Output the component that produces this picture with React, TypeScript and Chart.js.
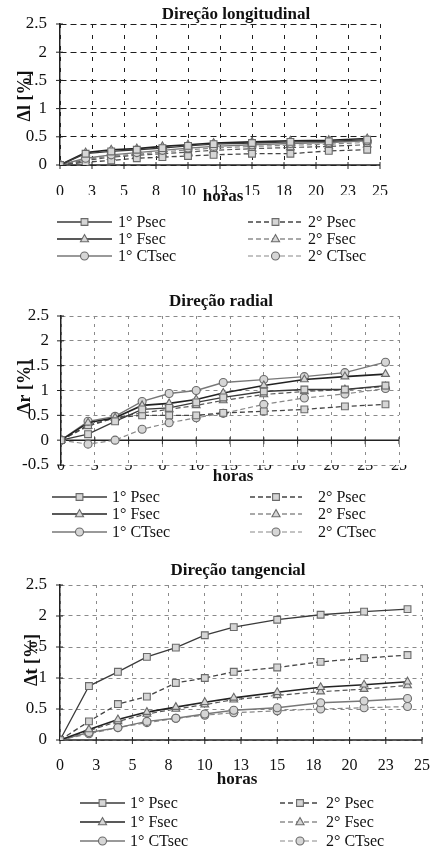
import React, { useEffect, useRef } from 'react';
import { Chart, registerables } from 'chart.js';

Chart.register(...registerables);

// ---------- data ----------
const hours = [0, 2, 4, 6, 8, 10, 12, 15, 18, 21, 24];
const seriesNames = ['1° Psec', '1° Fsec', '1° CTsec', '2° Psec', '2° Fsec', '2° CTsec'];
const xTickValues = [0, 2.5, 5, 7.5, 10, 12.5, 15, 17.5, 20, 22.5, 25];
const xTickLabels = ['0', '3', '5', '8', '10', '13', '15', '18', '20', '23', '25'];

// Direção longitudinal
const longP1 = [0, 0.2, 0.24, 0.27, 0.3, 0.34, 0.37, 0.39, 0.41, 0.42, 0.45];
const longF1 = [0, 0.22, 0.27, 0.29, 0.33, 0.36, 0.39, 0.41, 0.43, 0.44, 0.47];
const longCT1 = [0, 0.12, 0.18, 0.22, 0.26, 0.3, 0.33, 0.36, 0.38, 0.4, 0.43];
const longP2 = [0, 0.05, 0.08, 0.12, 0.14, 0.16, 0.18, 0.2, 0.2, 0.25, 0.27];
const longF2 = [0, 0.08, 0.14, 0.17, 0.2, 0.23, 0.26, 0.29, 0.31, 0.33, 0.36];
const longCT2 = [0, 0.1, 0.16, 0.19, 0.23, 0.27, 0.3, 0.33, 0.35, 0.37, 0.4];

// Direção radial
const radP1 = [0, 0.12, 0.38, 0.62, 0.65, 0.76, 0.86, 0.98, 1.02, 1.02, 1.1];
const radF1 = [0, 0.35, 0.45, 0.7, 0.74, 0.82, 0.95, 1.1, 1.22, 1.28, 1.33];
const radCT1 = [0, 0.38, 0.48, 0.78, 0.94, 1.0, 1.16, 1.22, 1.28, 1.36, 1.57];
const radP2 = [0, 0.3, 0.45, 0.5, 0.5, 0.5, 0.55, 0.58, 0.62, 0.68, 0.72];
const radF2 = [0, 0.28, 0.45, 0.55, 0.62, 0.7, 0.8, 0.92, 0.98, 1.02, 1.08];
const radCT2 = [0, -0.08, 0, 0.22, 0.35, 0.45, 0.54, 0.72, 0.85, 0.93, 1.04];

// Direção tangencial
const tanP1 = [0, 0.87, 1.1, 1.34, 1.49, 1.69, 1.82, 1.94, 2.02, 2.07, 2.11];
const tanF1 = [0, 0.17, 0.33, 0.45, 0.53, 0.61, 0.68, 0.77, 0.85, 0.89, 0.94];
const tanCT1 = [0, 0.12, 0.2, 0.3, 0.35, 0.42, 0.48, 0.52, 0.6, 0.63, 0.67];
const tanP2 = [0, 0.3, 0.58, 0.7, 0.92, 1.0, 1.1, 1.17, 1.26, 1.32, 1.37];
const tanF2 = [0, 0.15, 0.3, 0.42, 0.5, 0.57, 0.65, 0.72, 0.78, 0.82, 0.88];
const tanCT2 = [0, 0.1, 0.2, 0.28, 0.35, 0.4, 0.44, 0.47, 0.5, 0.52, 0.54];

// ---------- styles ----------
const FONT = '"Liberation Serif", "Times New Roman", serif';
const seriesStyles = [
  { color: '#3a3a3a', width: 1.3, dash: [] as number[], point: 'rect', radius: 4.8 },
  { color: '#222222', width: 1.6, dash: [] as number[], point: 'triangle', radius: 4.5 },
  { color: '#777777', width: 1.4, dash: [] as number[], point: 'circle', radius: 4 },
  { color: '#444444', width: 1.3, dash: [5, 3], point: 'rect', radius: 4.8 },
  { color: '#555555', width: 1.2, dash: [5, 3], point: 'triangle', radius: 4.5 },
  { color: '#888888', width: 1.2, dash: [5, 3], point: 'circle', radius: 4 },
];

function drawMarker(ctx: CanvasRenderingContext2D, style: string, x: number, y: number, r: number) {
  ctx.beginPath();
  if (style === 'rect') {
    const s = r * Math.SQRT1_2;
    ctx.rect(x - s, y - s, 2 * s, 2 * s);
  } else if (style === 'triangle') {
    ctx.moveTo(x, y - r);
    ctx.lineTo(x + r * 0.9, y + r * 0.6);
    ctx.lineTo(x - r * 0.9, y + r * 0.6);
    ctx.closePath();
  } else {
    ctx.arc(x, y, r, 0, Math.PI * 2);
  }
  ctx.fill();
  ctx.stroke();
}

const decorPlugin = {
  id: 'decor',
  beforeDatasetsDraw(chart: any) {
    const ctx: CanvasRenderingContext2D = chart.ctx;
    const { left, right } = chart.chartArea;
    const xs = chart.scales.x;
    const ys = chart.scales.y;
    const y0 = ys.getPixelForValue(0);
    ctx.save();
    ctx.setLineDash([]);
    ctx.strokeStyle = '#222';
    ctx.lineWidth = 1.5;
    ctx.beginPath();
    ctx.moveTo(left, y0);
    ctx.lineTo(right, y0);
    ctx.stroke();
    ctx.lineWidth = 1;
    ctx.beginPath();
    xs.ticks.forEach((_t: any, i: number) => {
      const px = xs.getPixelForTick(i);
      ctx.moveTo(px, y0 - 3);
      ctx.lineTo(px, y0 + 4);
    });
    ys.ticks.forEach((_t: any, i: number) => {
      const py = ys.getPixelForTick(i);
      ctx.moveTo(left - 4, py);
      ctx.lineTo(left + 3, py);
    });
    ctx.stroke();
    ctx.restore();
  },
  afterDraw(chart: any, _a: any, opts: any) {
    const ctx: CanvasRenderingContext2D = chart.ctx;
    ctx.save();
    ctx.fillStyle = '#111';
    ctx.textBaseline = 'middle';
    ctx.textAlign = 'center';
    ctx.font = `bold 17px ${FONT}`;
    ctx.fillText(opts.title, opts.titleX, opts.titleY);
    ctx.fillText('horas', opts.horasX, opts.horasY);
    ctx.save();
    ctx.translate(opts.yTitleX, opts.yTitleY);
    ctx.rotate(-Math.PI / 2);
    ctx.font = `bold 18px ${FONT}`;
    ctx.fillText(opts.yTitle, 0, 0);
    ctx.restore();

    // legend
    ctx.font = `16px ${FONT}`;
    ctx.textAlign = 'left';
    chart.data.datasets.forEach((ds: any, i: number) => {
      const col = i < 3 ? opts.col1 : opts.col2;
      const y = opts.rows[i % 3];
      ctx.save();
      ctx.strokeStyle = ds.borderColor;
      ctx.lineWidth = ds.borderWidth;
      ctx.setLineDash(ds.borderDash || []);
      ctx.beginPath();
      ctx.moveTo(col.x0, y);
      ctx.lineTo(col.x1, y);
      ctx.stroke();
      ctx.setLineDash([]);
      ctx.fillStyle = ds.pointBackgroundColor;
      ctx.strokeStyle = ds.pointBorderColor;
      ctx.lineWidth = 1.1;
      drawMarker(ctx, ds.pointStyle, (col.x0 + col.x1) / 2, y, ds.pointRadius);
      ctx.restore();
      ctx.fillStyle = '#111';
      ctx.fillText(seriesNames[i], col.tx, y + 1);
    });
    ctx.restore();
  },
};

function makeConfig(p: any): any {
  const datasets = p.series.map((vals: number[], i: number) => {
    const s = seriesStyles[i];
    return {
      label: seriesNames[i],
      data: hours.map((h, j) => ({ x: h, y: vals[j] })),
      borderColor: s.color,
      borderWidth: s.width,
      borderDash: s.dash,
      pointStyle: s.point,
      pointRadius: s.radius,
      pointBackgroundColor: '#d6d6d6',
      pointBorderColor: '#6a6a6a',
      pointBorderWidth: 1.1,
      fill: false,
      tension: 0,
    };
  });
  return {
    type: 'line',
    data: { datasets },
    plugins: [decorPlugin],
    options: {
      responsive: false,
      animation: false,
      events: [],
      layout: { padding: { left: 0, right: p.padRight, top: p.padTop, bottom: p.padBottom } },
      plugins: {
        legend: { display: false },
        tooltip: { enabled: false },
        decor: p.decor,
      },
      scales: {
        x: {
          type: 'linear',
          min: 0,
          max: 25,
          afterBuildTicks: (s: any) => {
            s.ticks = xTickValues.map((v) => ({ value: v }));
          },
          ticks: {
            autoSkip: false,
            maxRotation: 0,
            padding: p.xPad,
            color: '#111',
            font: { family: FONT, size: 16 },
            callback: (_v: any, i: number) => xTickLabels[i],
          },
          grid: { color: p.gridColor, lineWidth: 1, drawTicks: false },
          border: { display: false, dash: p.xDash },
          afterFit: (s: any) => {
            s.height = p.xHeight;
            s.paddingLeft = 0;
            s.paddingRight = 0;
            s.paddingTop = 0;
            s.paddingBottom = 0;
          },
        },
        y: {
          type: 'linear',
          min: p.yMin,
          max: 2.5,
          ticks: {
            stepSize: 0.5,
            padding: p.yPad,
            color: '#111',
            font: { family: FONT, size: 17 },
            callback: (v: any) => String(Math.round(Number(v) * 10) / 10),
          },
          grid: { color: p.gridColor, lineWidth: 1, drawTicks: false },
          border: { display: true, color: '#222', width: 1.5, dash: p.yDash },
          afterFit: (s: any) => {
            s.width = p.yWidth;
            s.paddingLeft = 0;
            s.paddingRight = 0;
            s.paddingTop = 0;
            s.paddingBottom = 0;
          },
        },
      },
    },
  };
}

const panels = [
  {
    top: 0,
    height: 272,
    series: [longP1, longF1, longCT1, longP2, longF2, longCT2],
    yMin: 0,
    padTop: 24,
    padRight: 60,
    padBottom: 77,
    xHeight: 30,
    yWidth: 60,
    xPad: 17,
    yPad: 13,
    gridColor: '#1e1e1e',
    xDash: [4, 7],
    yDash: [6, 4],
    decor: {
      title: 'Direção longitudinal',
      titleX: 236,
      titleY: 15,
      horasX: 223,
      horasY: 197,
      yTitle: 'Δl [%]',
      yTitleX: 25,
      yTitleY: 96,
      rows: [222, 239, 256],
      col1: { x0: 57, x1: 112, tx: 118 },
      col2: { x0: 248, x1: 303, tx: 308 },
    },
  },
  {
    top: 280,
    height: 265,
    series: [radP1, radF1, radCT1, radP2, radF2, radCT2],
    yMin: -0.5,
    padTop: 36,
    padRight: 41,
    padBottom: 60,
    xHeight: 20,
    yWidth: 61,
    xPad: -9,
    yPad: 12,
    gridColor: '#8a8a8a',
    xDash: [3, 5],
    yDash: [4, 4],
    decor: {
      title: 'Direção radial',
      titleX: 221,
      titleY: 22,
      horasX: 233,
      horasY: 197,
      yTitle: 'Δr [%]',
      yTitleX: 25,
      yTitleY: 107,
      rows: [217, 234, 252],
      col1: { x0: 52, x1: 107, tx: 112 },
      col2: { x0: 250, x1: 302, tx: 318 },
    },
  },
  {
    top: 555,
    height: 296,
    series: [tanP1, tanF1, tanCT1, tanP2, tanF2, tanCT2],
    yMin: 0,
    padTop: 30,
    padRight: 18,
    padBottom: 81,
    xHeight: 30,
    yWidth: 60,
    xPad: 16,
    yPad: 13,
    gridColor: '#8a8a8a',
    xDash: [3, 5],
    yDash: [4, 4],
    decor: {
      title: 'Direção tangencial',
      titleX: 238,
      titleY: 16,
      horasX: 237,
      horasY: 225,
      yTitle: 'Δt [%]',
      yTitleX: 32,
      yTitleY: 105,
      rows: [248, 267, 286],
      col1: { x0: 80, x1: 125, tx: 130 },
      col2: { x0: 280, x1: 320, tx: 326 },
    },
  },
];

function Panel({ p }: { p: any }) {
  const ref = useRef<HTMLCanvasElement>(null);
  useEffect(() => {
    const chart = new Chart(ref.current as HTMLCanvasElement, makeConfig(p));
    return () => chart.destroy();
  }, [p]);
  return (
    <canvas
      ref={ref}
      width={440}
      height={p.height}
      style={{ position: 'absolute', left: 0, top: p.top, width: 440, height: p.height, display: 'block' }}
    />
  );
}

export default function App() {
  return (
    <div style={{ position: 'absolute', left: 0, top: 0, width: 440, height: 851, background: '#ffffff', overflow: 'hidden' }}>
      {panels.map((p, i) => (
        <Panel key={i} p={p} />
      ))}
    </div>
  );
}
